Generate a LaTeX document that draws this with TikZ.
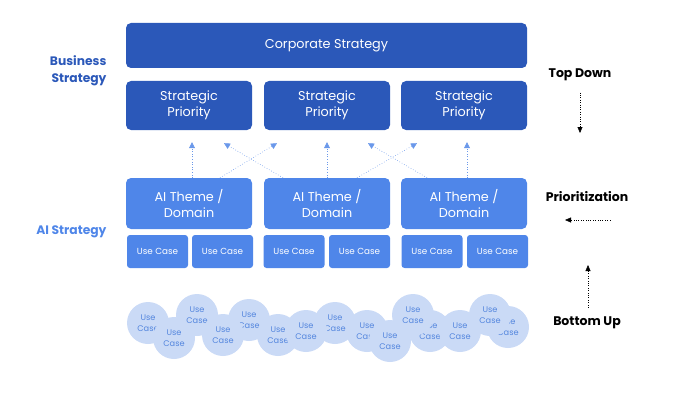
\documentclass[tikz,border=0pt]{standalone}
\usepackage{fontspec}
\setmainfont{Poppins}
\usetikzlibrary{arrows.meta}
\definecolor{bizblue}{HTML}{2B58B9}
\definecolor{aiblue}{HTML}{4F86E9}
\definecolor{bubblefill}{HTML}{CADAF6}
\definecolor{bubbletext}{HTML}{5486DE}
\definecolor{linkblue}{HTML}{6A98EA}

\begin{document}
\begin{tikzpicture}
  [x=1pt, y=-1pt,
   strat/.style={fill=bizblue, rounded corners=5pt, text=white, align=center,
                 inner sep=0pt, font=\fontsize{12.8}{16}\selectfont},
   theme/.style={strat, fill=aiblue, minimum width=126pt, minimum height=51pt},
   usecase/.style={fill=aiblue, rounded corners=3pt, text=white, inner sep=0pt,
                   minimum width=61pt, minimum height=33pt, font=\fontsize{8.8}{10}\selectfont},
   bubble/.style={circle, fill=bubblefill, text=bubbletext, inner sep=0pt,
                  minimum size=42pt, align=center, font=\fontsize{8.2}{10.5}\selectfont},
   side/.style={font=\bfseries\fontsize{12.3}{17}\selectfont, align=right, anchor=east},
   note/.style={font=\bfseries\fontsize{12.5}{14}\selectfont},
   link/.style={draw=linkblue, dotted, semithick, -{Triangle[length=6pt,width=6pt]}},
   flow/.style={draw=black, dotted, -{Triangle[length=6pt,width=5pt]}}]
  \useasboundingbox (0,0) rectangle (690,401);

  % business strategy
  \node [strat, minimum width=401pt, minimum height=45pt] (corp) at (326.5,45.5) {Corporate Strategy};
  \node [strat, minimum width=126pt, minimum height=49pt] (sp1) at (189,105.5) {Strategic\\Priority};
  \node [strat, minimum width=126pt, minimum height=49pt] (sp2) at (327,105.5) {Strategic\\Priority};
  \node [strat, minimum width=126pt, minimum height=49pt] (sp3) at (464,105.5) {Strategic\\Priority};

  % ai strategy
  \node [theme] (ai1) at (189,203.5) {AI Theme /\\Domain};
  \node [theme] (ai2) at (327,203.5) {AI Theme /\\Domain};
  \node [theme] (ai3) at (464,203.5) {AI Theme /\\Domain};

  \node [usecase] (uc1) at (157.5,251.5) {Use Case};
  \node [usecase] (uc2) at (222.5,251.5) {Use Case};
  \node [usecase] (uc3) at (294,251.5) {Use Case};
  \node [usecase] (uc4) at (359.5,251.5) {Use Case};
  \node [usecase] (uc5) at (432,251.5) {Use Case};
  \node [usecase] (uc6) at (497.5,251.5) {Use Case};

  % links
  \draw [link] ([xshift=3pt]ai1.north) -- ([xshift=3pt,yshift=-12pt]sp1.south);
  \draw [link] (ai2.north) -- ([yshift=-12pt]sp2.south);
  \draw [link] ([xshift=3pt]ai3.north) -- ([xshift=3pt,yshift=-12pt]sp3.south);
  \draw [link] ([xshift=31pt]ai1.north) -- ([xshift=-50pt,yshift=-13pt]sp2.south);
  \draw [link] ([xshift=-44pt]ai2.north) -- ([xshift=35pt,yshift=-13pt]sp1.south);
  \draw [link] ([xshift=30pt]ai2.north) -- ([xshift=-47pt,yshift=-13pt]sp3.south);
  \draw [link] ([xshift=-37pt]ai3.north) -- ([xshift=41pt,yshift=-13pt]sp2.south);

  % bottom up use cases
  \node [bubble] (b1) at (148,323) {Use\\Case};
  \node [bubble] (b2) at (174,338) {Use\\Case};
  \node [bubble] (b3) at (197,315) {Use\\Case};
  \node [bubble] (b5) at (249,320) {Use\\Case};
  \node [bubble] (b4) at (223,335) {Use\\Case};
  \node [bubble] (b6) at (278,335) {Use\\Case};
  \node [bubble] (b8) at (335,323) {Use\\Case};
  \node [bubble] (b7) at (306,331) {Use\\Case};
  \node [bubble] (b9) at (367,331) {Use\\Case};
  \node [bubble] (b10) at (390,341) {Use\\Case};
  \node [bubble] (b12) at (430,331) {Use\\Case};
  \node [bubble] (b11) at (413,315) {Use\\Case};
  \node [bubble] (b13) at (460,331) {Use\\Case};
  \node [bubble] (b15) at (508,327) {Use\\Case};
  \node [bubble] (b14) at (490,315) {Use\\Case};

  % side labels
  \node [side, text=bizblue] (biz) at (110,71) {Business\\Strategy};
  \node [side, text=aiblue] (aistr) at (110,232) {AI Strategy};

  \node [note] (td) at (580,75) {Top Down};
  \coordinate (tdend) at (580,133);
  \draw [flow] ([yshift=-8pt]td.south) -- (tdend);

  \node [note] (prio) at (587,197) {Prioritization};
  \coordinate (prstart) at (610,220);
  \coordinate (prend) at (565,220);
  \draw [flow] (prstart) -- (prend);

  \node [note] (bu) at (587,323) {Bottom Up};
  \coordinate (buend) at (588,265);
  \draw [flow] ([xshift=1pt,yshift=6pt]bu.north) -- (buend);
\end{tikzpicture}
\end{document}
